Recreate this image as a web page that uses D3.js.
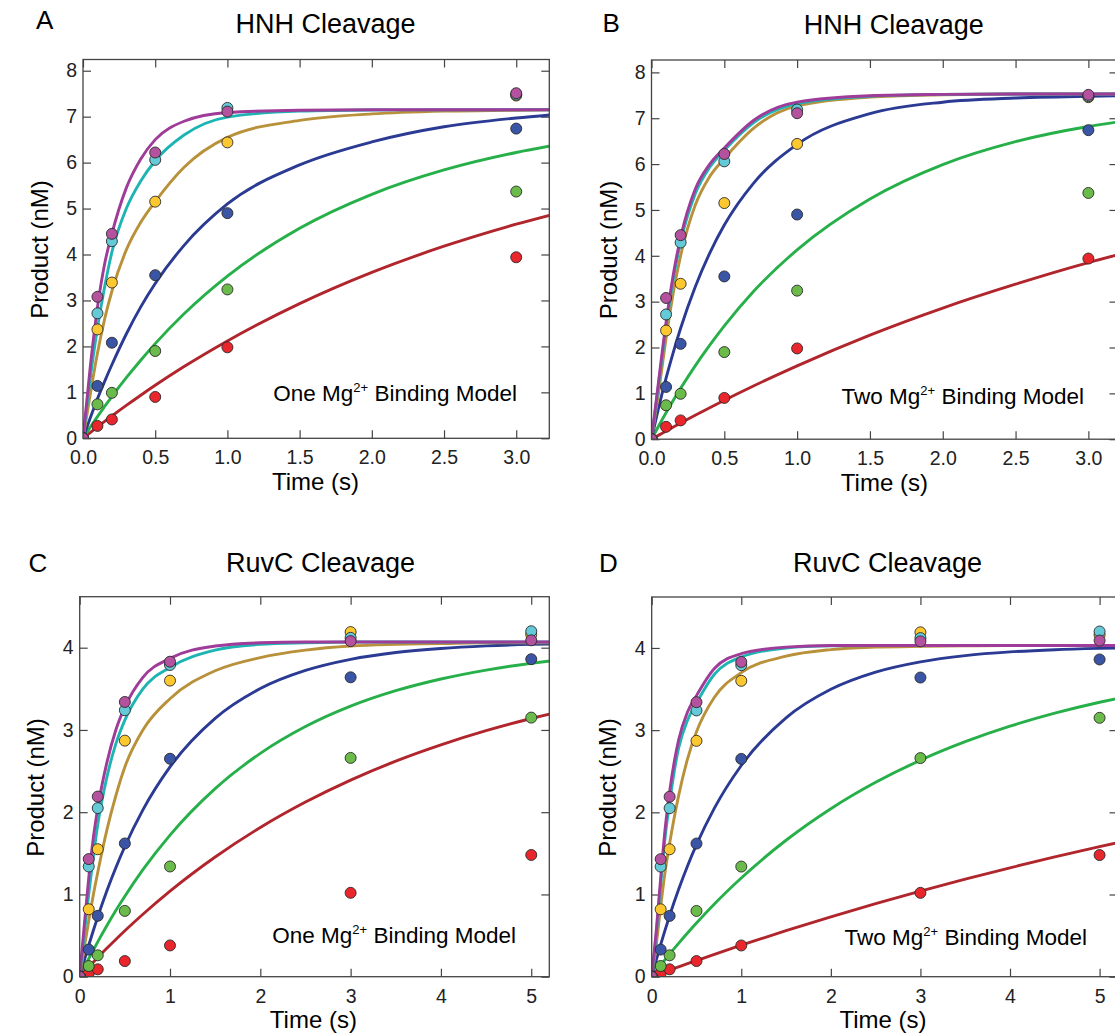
<!DOCTYPE html>
<html lang="en">
<head>
<meta charset="UTF-8">
<title>HNH / RuvC cleavage kinetics</title>
<script src="https://d3js.org/d3.v7.min.js"></script>
<style>
    body { margin: 0; background: #fff; }
    svg { font-family: "Liberation Sans", Arial, Helvetica, sans-serif; }
    .tick text { fill: #222; }
    .tick line { stroke: #444; }
</style>
</head>
<body>
<div id="chart"></div>
<script>
// ---- data ----
const seriesNames = ['red', 'green', 'blue', 'yellow', 'cyan', 'magenta'];
const lineColors  = ['#b1262d', '#27b04a', '#2b3a92', '#b8913a', '#1fb4b4', '#9f3b98'];
const dotColors   = ['#e8262b', '#6bbb4b', '#3a55a5', '#fdc82f', '#64cad7', '#b4529f'];

// measured points, HNH cleavage (panels A and B)
const hnhTimes = [0, 0.1, 0.2, 0.5, 1, 3];
const hnhRed     = [0, 0.27, 0.41, 0.90, 1.98, 3.94];
const hnhGreen   = [0, 0.74, 0.99, 1.90, 3.24, 5.37];
const hnhBlue    = [0, 1.14, 2.08, 3.55, 4.90, 6.74];
const hnhYellow  = [0, 2.37, 3.39, 5.15, 6.44, 7.46];
const hnhCyan    = [0, 2.72, 4.29, 6.06, 7.19, 7.48];
const hnhMagenta = [0, 3.08, 4.45, 6.22, 7.11, 7.51];

// measured points, RuvC cleavage (panels C and D)
const ruvcTimes = [0, 0.1, 0.2, 0.5, 1, 3, 5];
const ruvcRed     = [0, 0.04, 0.09, 0.19, 0.38, 1.02, 1.48];
const ruvcGreen   = [0, 0.13, 0.26, 0.80, 1.34, 2.66, 3.15];
const ruvcBlue    = [0, 0.33, 0.74, 1.62, 2.65, 3.64, 3.86];
const ruvcYellow  = [0, 0.82, 1.55, 2.87, 3.60, 4.19, 4.16];
const ruvcCyan    = [0, 1.34, 2.05, 3.24, 3.79, 4.12, 4.20];
const ruvcMagenta = [0, 1.43, 2.19, 3.34, 3.83, 4.08, 4.09];

// fitted curves, sampled off the figure
const hnhFitTimes = [0, 0.05, 0.1, 0.15, 0.2, 0.3, 0.4, 0.5, 0.7, 1, 1.5, 2, 2.5, 3, 3.25];
const fitARed     = [0, 0.125, 0.247, 0.367, 0.486, 0.716, 0.938, 1.154, 1.562, 2.12, 2.93, 3.61, 4.18, 4.66, 4.87];
const fitAGreen   = [0, 0.239, 0.472, 0.693, 0.909, 1.319, 1.70, 2.06, 2.71, 3.53, 4.57, 5.31, 5.84, 6.22, 6.37];
const fitABlue    = [0, 0.44, 0.86, 1.24, 1.6, 2.27, 2.86, 3.37, 4.2, 5.1, 5.95, 6.45, 6.78, 6.97, 7.04];
const fitAGold    = [0, 0.95, 1.85, 2.6, 3.2, 4.1, 4.7, 5.15, 5.9, 6.55, 6.92, 7.06, 7.12, 7.14, 7.15];
const fitACyan    = [0, 1.3, 2.4, 3.3, 4.05, 5.0, 5.6, 6.04, 6.6, 6.99, 7.12, 7.145, 7.15, 7.15, 7.15];
const fitAMagenta = [0, 1.55, 2.85, 3.8, 4.45, 5.45, 6.08, 6.5, 6.9, 7.09, 7.14, 7.15, 7.15, 7.15, 7.15];

const fitBRed     = [0, 0.089, 0.178, 0.265, 0.352, 0.521, 0.686, 0.848, 1.16, 1.60, 2.27, 2.86, 3.38, 3.85, 4.06];
const fitBGreen   = [0, 0.294, 0.577, 0.848, 1.109, 1.60, 2.05, 2.47, 3.22, 4.13, 5.24, 5.99, 6.49, 6.82, 6.94];
const fitBBlue    = [0, 0.70, 1.33, 1.90, 2.42, 3.32, 4.06, 4.67, 5.58, 6.43, 7.10, 7.35, 7.44, 7.48, 7.49];
const fitBGold    = [0, 1.05, 2.2, 3.2, 4.0, 5.1, 5.73, 6.12, 6.78, 7.27, 7.46, 7.51, 7.53, 7.53, 7.53];
const fitBCyan    = [0, 1.22, 2.45, 3.5, 4.3, 5.35, 5.93, 6.3, 6.9, 7.32, 7.48, 7.52, 7.53, 7.53, 7.53];
const fitBMagenta = [0, 1.3, 2.55, 3.6, 4.4, 5.45, 6.0, 6.35, 6.95, 7.35, 7.49, 7.52, 7.53, 7.53, 7.53];

const ruvcFitTimes = [0, 0.05, 0.1, 0.15, 0.2, 0.3, 0.4, 0.5, 0.7, 1, 1.5, 2, 2.5, 3, 3.5, 4, 4.5, 5, 5.6];
const fitCRed     = [0, 0.060, 0.118, 0.176, 0.233, 0.345, 0.453, 0.558, 0.759, 1.040, 1.455, 1.814, 2.123, 2.390, 2.621, 2.819, 2.991, 3.139, 3.291];
const fitCGreen   = [0, 0.110, 0.218, 0.322, 0.424, 0.619, 0.804, 0.978, 1.301, 1.722, 2.287, 2.715, 3.041, 3.289, 3.477, 3.619, 3.728, 3.810, 3.883];
const fitCBlue    = [0, 0.196, 0.382, 0.559, 0.727, 1.042, 1.325, 1.583, 2.028, 2.550, 3.141, 3.503, 3.723, 3.858, 3.941, 3.991, 4.022, 4.041, 4.054];
const fitCGold    = [0, 0.35, 0.68, 0.99, 1.27, 1.78, 2.2, 2.55, 3.0, 3.38, 3.72, 3.88, 3.97, 4.02, 4.04, 4.05, 4.06, 4.06, 4.06];
const fitCCyan    = [0, 0.52, 1.0, 1.45, 1.85, 2.42, 2.83, 3.12, 3.5, 3.76, 3.97, 4.04, 4.06, 4.07, 4.07, 4.07, 4.07, 4.07, 4.07];
const fitCMagenta = [0, 0.62, 1.2, 1.68, 2.05, 2.6, 3.0, 3.28, 3.64, 3.87, 4.02, 4.06, 4.07, 4.07, 4.07, 4.07, 4.07, 4.07, 4.07];

const fitDRed     = [0, 0.020, 0.040, 0.060, 0.080, 0.119, 0.158, 0.196, 0.272, 0.383, 0.560, 0.729, 0.889, 1.042, 1.187, 1.325, 1.457, 1.582, 1.724];
const fitDGreen   = [0, 0.071, 0.140, 0.208, 0.276, 0.406, 0.532, 0.653, 0.885, 1.201, 1.660, 2.044, 2.365, 2.634, 2.859, 3.048, 3.206, 3.339, 3.469];
const fitDBlue    = [0, 0.200, 0.390, 0.570, 0.742, 1.060, 1.347, 1.606, 2.051, 2.570, 3.150, 3.497, 3.706, 3.831, 3.907, 3.952, 3.979, 3.995, 4.007];
const fitDGold    = [0, 0.38, 0.85, 1.28, 1.62, 2.2, 2.65, 2.98, 3.4, 3.7, 3.9, 3.98, 4.01, 4.02, 4.025, 4.03, 4.03, 4.03, 4.03];
const fitDCyan    = [0, 0.5, 1.12, 1.7, 2.12, 2.78, 3.12, 3.33, 3.68, 3.89, 4.0, 4.025, 4.03, 4.03, 4.03, 4.03, 4.03, 4.03, 4.03];
const fitDMagenta = [0, 0.55, 1.2, 1.8, 2.25, 2.88, 3.22, 3.42, 3.75, 3.93, 4.01, 4.03, 4.03, 4.03, 4.03, 4.03, 4.03, 4.03, 4.03];

// tick labels
const hnhTicksX = [0, 0.5, 1, 1.5, 2, 2.5, 3];
const hnhTicksY = [0, 1, 2, 3, 4, 5, 6, 7, 8];
const ruvcTicksX = [0, 1, 2, 3, 4, 5];
const ruvcTicksY = [0, 1, 2, 3, 4];

const hnhPoints = [hnhRed, hnhGreen, hnhBlue, hnhYellow, hnhCyan, hnhMagenta];
const ruvcPoints = [ruvcRed, ruvcGreen, ruvcBlue, ruvcYellow, ruvcCyan, ruvcMagenta];

// ---- layout ----
const panels = [
    {letter: 'A', title: 'HNH Cleavage', model: 'One',
     left: 83, right: 549.3, top: 59.5, bottom: 438.3, xMax: 3.229, yMax: 8.244,
     xTicks: hnhTicksX, yTicks: hnhTicksY, xFmt: d3.format('.1f'),
     times: hnhTimes, points: hnhPoints, fitTimes: hnhFitTimes,
     fits: [fitARed, fitAGreen, fitABlue, fitAGold, fitACyan, fitAMagenta],
     letterPos: [36, 29], titlePos: [325.5, 33], yLabPos: [39, 249.5], xLabPos: [315.5, 490], notePos: [517, 401]},
    {letter: 'B', title: 'HNH Cleavage', model: 'Two',
     left: 651.5, right: 1117.5, top: 60, bottom: 439.2, xMax: 3.2, yMax: 8.27,
     xTicks: hnhTicksX, yTicks: hnhTicksY, xFmt: d3.format('.1f'),
     times: hnhTimes, points: hnhPoints, fitTimes: hnhFitTimes,
     fits: [fitBRed, fitBGreen, fitBBlue, fitBGold, fitBCyan, fitBMagenta],
     letterPos: [602.5, 32], titlePos: [893.7, 34], yLabPos: [608, 250], xLabPos: [884.4, 491], notePos: [1084, 404]},
    {letter: 'C', title: 'RuvC Cleavage', model: 'One',
     left: 79.7, right: 549.3, top: 596.7, bottom: 976.7, xMax: 5.2, yMax: 4.62,
     xTicks: ruvcTicksX, yTicks: ruvcTicksY, xFmt: d3.format('d'),
     times: ruvcTimes, points: ruvcPoints, fitTimes: ruvcFitTimes,
     fits: [fitCRed, fitCGreen, fitCBlue, fitCGold, fitCCyan, fitCMagenta],
     letterPos: [28.6, 572], titlePos: [320.5, 572], yLabPos: [35.7, 787.5], xLabPos: [313.4, 1028], notePos: [516, 943]},
    {letter: 'D', title: 'RuvC Cleavage', model: 'Two',
     left: 651.7, right: 1117.5, top: 597, bottom: 976.7, xMax: 5.2, yMax: 4.62,
     xTicks: ruvcTicksX, yTicks: ruvcTicksY, xFmt: d3.format('d'),
     times: ruvcTimes, points: ruvcPoints, fitTimes: ruvcFitTimes,
     fits: [fitDRed, fitDGreen, fitDBlue, fitDGold, fitDCyan, fitDMagenta],
     letterPos: [599, 572], titlePos: [887.5, 572], yLabPos: [607.7, 787.5], xLabPos: [883, 1028], notePos: [1087, 945]}
];

const svg = d3.select('#chart').append('svg')
    .attr('width', 1115)
    .attr('height', 1036);

panels.forEach((p, pi) => drawPanel(p, pi));

function drawPanel(p, pi) {
    const x = d3.scaleLinear().domain([0, p.xMax]).range([p.left, p.right]);
    const y = d3.scaleLinear().domain([0, p.yMax]).range([p.bottom, p.top]);
    const g = svg.append('g');

    const clipId = 'clip' + pi;
    svg.append('clipPath').attr('id', clipId)
        .append('rect')
        .attr('x', p.left).attr('y', p.top)
        .attr('width', p.right - p.left).attr('height', p.bottom - p.top);

    // axes with inward ticks on all four sides
    const tickLen = 8;
    g.append('g').attr('transform', `translate(0,${p.bottom})`)
        .call(d3.axisBottom(x).tickValues(p.xTicks).tickFormat(p.xFmt)
            .tickSizeInner(-tickLen).tickSizeOuter(0).tickPadding(12))
        .call(a => a.select('.domain').remove())
        .selectAll('text').attr('font-size', 19.5).attr('font-family', null);
    g.append('g').attr('transform', `translate(0,${p.top})`)
        .call(d3.axisTop(x).tickValues(p.xTicks).tickFormat('')
            .tickSizeInner(-tickLen).tickSizeOuter(0))
        .call(a => a.select('.domain').remove());
    g.append('g').attr('transform', `translate(${p.left},0)`)
        .call(d3.axisLeft(y).tickValues(p.yTicks).tickFormat(d3.format('d'))
            .tickSizeInner(-tickLen).tickSizeOuter(0).tickPadding(6))
        .call(a => a.select('.domain').remove())
        .selectAll('text').attr('font-size', 19.5).attr('font-family', null);
    g.append('g').attr('transform', `translate(${p.right},0)`)
        .call(d3.axisRight(y).tickValues(p.yTicks).tickFormat('')
            .tickSizeInner(-tickLen).tickSizeOuter(0))
        .call(a => a.select('.domain').remove());
    g.selectAll('.tick line').attr('stroke', '#444').attr('stroke-width', 1.2);

    // fitted curves
    const line = d3.line()
        .x(d => x(d[0]))
        .y(d => y(d[1]))
        .curve(d3.curveMonotoneX);
    const curves = g.append('g').attr('clip-path', `url(#${clipId})`);
    p.fits.forEach((vals, i) => {
        curves.append('path')
            .datum(p.fitTimes.map((t, j) => [t, vals[j]]))
            .attr('fill', 'none')
            .attr('stroke', lineColors[i])
            .attr('stroke-width', 2.9)
            .attr('d', line);
    });

    // measured points
    const dots = g.append('g').attr('clip-path', `url(#${clipId})`);
    p.points.forEach((vals, i) => {
        dots.selectAll(null)
            .data(p.times.map((t, j) => [t, vals[j]]))
            .enter().append('circle')
            .attr('cx', d => x(d[0]))
            .attr('cy', d => y(d[1]))
            .attr('r', 5.5)
            .attr('fill', dotColors[i])
            .attr('stroke', '#2a2a2a')
            .attr('stroke-width', 0.9);
    });

    // frame
    g.append('rect')
        .attr('x', p.left).attr('y', p.top)
        .attr('width', p.right - p.left).attr('height', p.bottom - p.top)
        .attr('fill', 'none')
        .attr('stroke', '#444')
        .attr('stroke-width', 1.3);

    // texts
    g.append('text')
        .attr('x', p.letterPos[0]).attr('y', p.letterPos[1])
        .attr('font-size', 26)
        .text(p.letter);
    g.append('text')
        .attr('x', p.titlePos[0]).attr('y', p.titlePos[1])
        .attr('text-anchor', 'middle')
        .attr('font-size', 27)
        .text(p.title);
    g.append('text')
        .attr('transform', `translate(${p.yLabPos[0]},${p.yLabPos[1]}) rotate(-90)`)
        .attr('text-anchor', 'middle')
        .attr('dominant-baseline', 'central')
        .attr('font-size', 24)
        .text('Product (nM)');
    g.append('text')
        .attr('x', p.xLabPos[0]).attr('y', p.xLabPos[1])
        .attr('text-anchor', 'middle')
        .attr('font-size', 24)
        .text('Time (s)');

    const note = g.append('text')
        .attr('x', p.notePos[0]).attr('y', p.notePos[1])
        .attr('text-anchor', 'end')
        .attr('font-size', 22.5);
    note.append('tspan').text(p.model + ' Mg');
    note.append('tspan').attr('font-size', 13).attr('dy', -9).text('2+');
    note.append('tspan').attr('dy', 9).text(' Binding Model');
}
</script>
</body>
</html>
